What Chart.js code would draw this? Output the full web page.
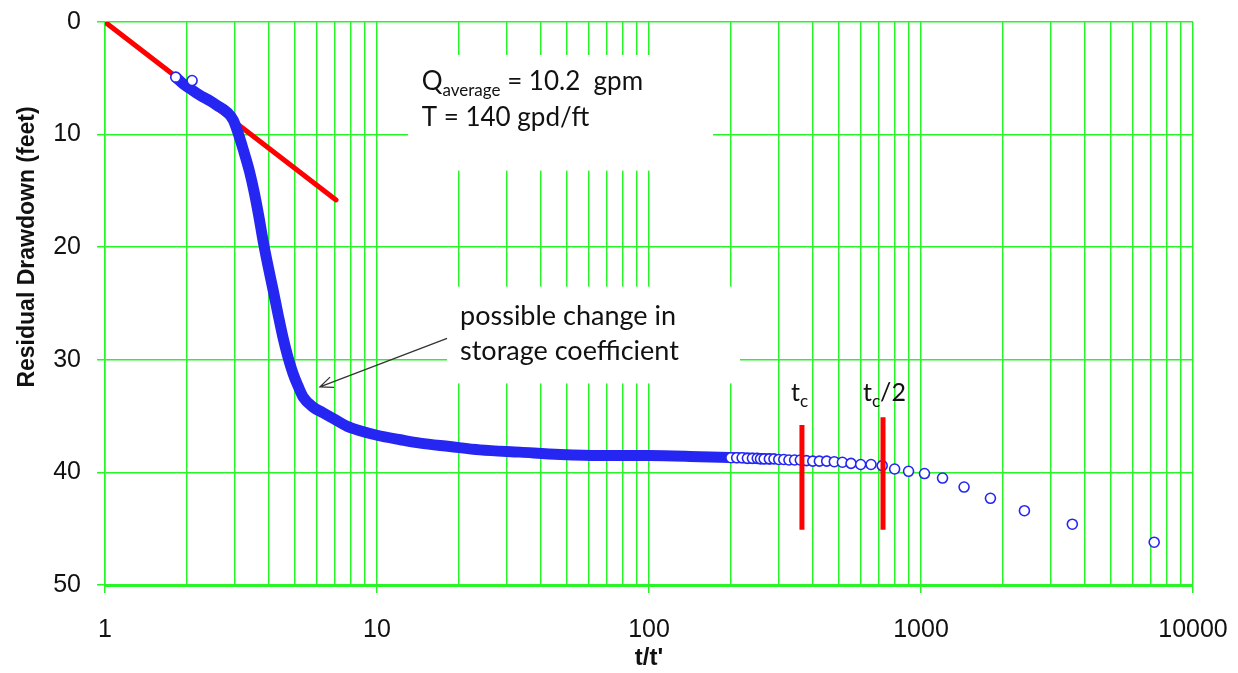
<!DOCTYPE html>
<html>
<head>
<meta charset="utf-8">
<script src="https://cdn.jsdelivr.net/npm/chart.js@4.4.0/dist/chart.umd.min.js"></script>
<style>
  html, body { margin: 0; padding: 0; background: #fff; }
  #wrap { width: 1238px; height: 673px; }
</style>
</head>
<body>
<div id="wrap"><canvas id="chart" width="1238" height="673"></canvas></div>
<script>
// axis ticks
const xGridValues = [1, 2, 3, 4, 5, 6, 7, 8, 9,
    10, 20, 30, 40, 50, 60, 70, 80, 90,
    100, 200, 300, 400, 500, 600, 700, 800, 900,
    1000, 2000, 3000, 4000, 5000, 6000, 7000, 8000, 9000, 10000];
const xTickLabels = [1, 10, 100, 1000, 10000];
const yTickValues = [0, 10, 20, 30, 40, 50];

// dense part of the recovery curve (t/t' vs residual drawdown, ft)
const bandX = [1.84, 1.94, 2.05, 2.23, 2.43, 2.58, 2.81, 2.96, 3.08, 3.22, 3.40, 3.55, 3.68, 3.81,
    3.97, 4.15, 4.33, 4.51, 4.71, 4.91, 5.12, 5.35, 5.82, 6.33, 7.01, 7.76, 8.66, 10, 12.2, 14.4,
    18.5, 23.9, 33.6, 47.1, 66, 100, 154, 216, 280];
const bandY = [5.0, 5.5, 5.9, 6.5, 7.0, 7.4, 8.0, 8.7, 9.8, 11.3, 13.3, 15.3, 17.3, 19.4,
    21.6, 23.8, 26.0, 28.0, 29.8, 31.2, 32.3, 33.3, 34.2, 34.7, 35.3, 35.9, 36.3, 36.7, 37.1, 37.4,
    37.7, 38.0, 38.2, 38.4, 38.5, 38.5, 38.6, 38.7, 38.8];

// individual readings
const pointX = [1.82, 2.09, 200, 210, 220, 230, 240, 250, 257, 265, 277, 288, 300, 313, 327, 343, 360,
    379, 400, 423, 450, 480, 514, 553, 600, 655, 720, 800, 900, 1030, 1200, 1440, 1800, 2400, 3600, 7200];
const pointY = [4.9, 5.2, 38.7, 38.7, 38.7, 38.75, 38.75, 38.75, 38.8, 38.8, 38.8, 38.8, 38.85, 38.85, 38.9, 38.9, 38.9,
    38.95, 39.0, 39.0, 39.0, 39.05, 39.1, 39.2, 39.3, 39.3, 39.4, 39.7, 39.9, 40.1, 40.5, 41.3, 42.3, 43.4, 44.6, 46.2];

// straight line through early data
const fitX = [1, 7.07];
const fitY = [0, 15.8];

// tc and tc/2 markers
const tcX = [365, 365];
const tcY = [35.8, 45.1];
const tcHalfX = [725, 725];
const tcHalfY = [35.1, 45.1];

const GREEN = 'rgb(40,245,40)';
const BLUE = '#2626f2';
const RED = '#ff0000';
const NOTE_FONT = 'Lato, "Open Sans", sans-serif';
const AXIS_FONT = '"Liberation Sans", Arial, sans-serif';

function pts(xs, ys) {
    return xs.map((x, i) => ({ x: x, y: ys[i] }));
}

// text boxes, arrow, labels
const notesPlugin = {
    id: 'notes',
    beforeDatasetsDraw(chart) {
        const ctx = chart.ctx;
        const sx = chart.scales.x, sy = chart.scales.y;
        const box = (x0, x1, y0, y1) => {
            const l = sx.getPixelForValue(x0), r = sx.getPixelForValue(x1);
            const t = sy.getPixelForValue(y0), b = sy.getPixelForValue(y1);
            ctx.fillRect(l, t, r - l, b - t);
        };
        ctx.save();
        ctx.fillStyle = '#ffffff';
        box(13.0, 172, 2.93, 13.2);
        box(18.1, 216, 23.5, 32.1);
        ctx.restore();
    },
    afterDraw(chart) {
        const ctx = chart.ctx;
        const sx = chart.scales.x, sy = chart.scales.y;
        const X = v => sx.getPixelForValue(v);
        const Y = v => sy.getPixelForValue(v);

        ctx.save();
        ctx.fillStyle = '#111';
        ctx.textBaseline = 'alphabetic';
        ctx.textAlign = 'left';

        // base text followed by subscript, then rest
        const subText = (x, y, main, sub, rest, size) => {
            ctx.font = size + 'px ' + NOTE_FONT;
            ctx.fillText(main, x, y);
            let cx = x + ctx.measureText(main).width;
            ctx.font = Math.round(size * 0.66) + 'px ' + NOTE_FONT;
            ctx.fillText(sub, cx, y + size * 0.22);
            cx += ctx.measureText(sub).width;
            if (rest) {
                ctx.font = size + 'px ' + NOTE_FONT;
                ctx.fillText(rest, cx, y);
            }
        };

        subText(X(14.6), Y(6.04), 'Q', 'average', ' = 10.2  gpm', 26);
        ctx.font = '26px ' + NOTE_FONT;
        ctx.fillText('T = 140 gpd/ft', X(14.6), Y(9.24));

        ctx.font = '27px ' + NOTE_FONT;
        ctx.fillText('possible change in', X(20.2), Y(26.9));
        ctx.fillText('storage coefficient', X(20.2), Y(30.0));

        subText(X(333), Y(33.7), 't', 'c', '', 25);
        subText(X(612), Y(33.7), 't', 'c', '/2', 25);

        // arrow
        const ax0 = X(18.1), ay0 = Y(28.1), ax1 = X(6.17), ay1 = Y(32.4);
        ctx.strokeStyle = '#333';
        ctx.lineWidth = 1.3;
        ctx.beginPath();
        ctx.moveTo(ax0, ay0);
        ctx.lineTo(ax1, ay1);
        const ang = Math.atan2(ay0 - ay1, ax0 - ax1);
        const hl = 14;
        ctx.moveTo(ax1 + hl * Math.cos(ang + 0.4), ay1 + hl * Math.sin(ang + 0.4));
        ctx.lineTo(ax1, ay1);
        ctx.lineTo(ax1 + hl * Math.cos(ang - 0.4), ay1 + hl * Math.sin(ang - 0.4));
        ctx.stroke();

        // y axis title
        ctx.translate(28, 247);
        ctx.rotate(-Math.PI / 2);
        ctx.textAlign = 'center';
        ctx.textBaseline = 'middle';
        ctx.font = 'bold 23px ' + AXIS_FONT;
        ctx.fillText('Residual Drawdown (feet)', 0, 0);
        ctx.restore();
    }
};

const ctx = document.getElementById('chart').getContext('2d');
const chart = new Chart(ctx, {
    type: 'scatter',
    data: {
        datasets: [
            {
                label: 'readings',
                data: pts(pointX, pointY),
                pointStyle: 'circle',
                pointRadius: 5,
                borderWidth: 1.6,
                borderColor: BLUE,
                backgroundColor: '#ffffff',
                order: 1
            },
            {
                label: 'tc',
                data: pts(tcX, tcY),
                showLine: true,
                borderColor: RED,
                borderWidth: 5,
                pointRadius: 0,
                order: 0
            },
            {
                label: 'tc/2',
                data: pts(tcHalfX, tcHalfY),
                showLine: true,
                borderColor: RED,
                borderWidth: 5,
                pointRadius: 0,
                order: 0
            },
            {
                label: 'curve',
                data: pts(bandX, bandY),
                showLine: true,
                borderColor: BLUE,
                borderWidth: 11,
                borderCapStyle: 'round',
                borderJoinStyle: 'round',
                cubicInterpolationMode: 'monotone',
                pointRadius: 0,
                order: 2
            },
            {
                label: 'fit',
                data: pts(fitX, fitY),
                showLine: true,
                borderColor: RED,
                borderWidth: 5,
                borderCapStyle: 'round',
                pointRadius: 0,
                order: 3
            }
        ]
    },
    options: {
        responsive: false,
        animation: false,
        devicePixelRatio: 1,
        layout: { padding: { top: 22, right: 45, left: 0, bottom: 0 } },
        plugins: {
            legend: { display: false },
            tooltip: { enabled: false }
        },
        scales: {
            x: {
                type: 'logarithmic',
                min: 1,
                max: 10000,
                afterBuildTicks: scale => {
                    scale.ticks = xGridValues.map(v => ({ value: v }));
                },
                afterFit: scale => {
                    scale.height = 88;
                    scale.paddingLeft = 0;
                    scale.paddingRight = 0;
                },
                ticks: {
                    autoSkip: false,
                    maxRotation: 0,
                    padding: 22,
                    color: '#111',
                    font: { family: AXIS_FONT, size: 25 },
                    callback: v => xTickLabels.includes(v) ? String(v) : ''
                },
                grid: {
                    color: GREEN,
                    lineWidth: 1.5,
                    tickLength: 8,
                    tickColor: c => (c.tick && xTickLabels.includes(c.tick.value)) ? GREEN : 'rgba(0,0,0,0)'
                },
                border: { color: GREEN, width: 3 },
                title: {
                    display: true,
                    text: "t/t'",
                    color: '#111',
                    font: { family: AXIS_FONT, size: 24, weight: 'bold' },
                    padding: { top: 0, bottom: 0 }
                }
            },
            y: {
                type: 'linear',
                reverse: true,
                min: 0,
                max: 50,
                afterBuildTicks: scale => {
                    scale.ticks = yTickValues.map(v => ({ value: v }));
                },
                afterFit: scale => {
                    scale.width = 105;
                    scale.paddingTop = 0;
                    scale.paddingBottom = 0;
                },
                ticks: {
                    padding: 16,
                    color: '#111',
                    font: { family: AXIS_FONT, size: 25 }
                },
                grid: {
                    color: GREEN,
                    lineWidth: 1.5,
                    tickLength: 8
                },
                border: { color: GREEN, width: 1.5 }
            }
        }
    },
    plugins: [notesPlugin]
});
</script>
</body>
</html>
